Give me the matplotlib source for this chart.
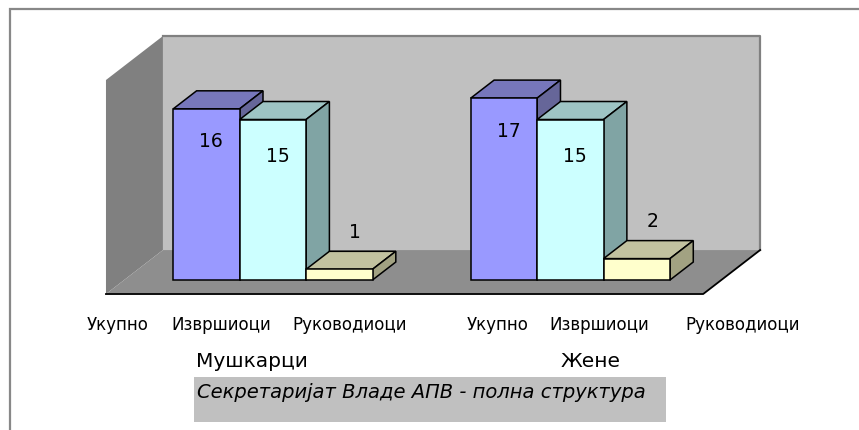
import matplotlib
matplotlib.use("Agg")
import matplotlib.pyplot as plt
from matplotlib.patches import Polygon, Rectangle

# podaci
grupe = ["Мушкарци", "Жене"]
kategorije = ["Укупно", "Извршиоци", "Руководиоци"]
muskarci = [16, 15, 1]
zene = [17, 15, 2]
vrijednosti = [muskarci, zene]
naslov = "Секретаријат Владе АПВ - полна структура"

# boje (prednja strana, vrh, bok)
boje_prednje = ["#9999FF", "#CCFFFF", "#FFFFCC"]
boje_vrh = ["#7777BB", "#9EC4C4", "#C2C2A0"]
boje_bok = ["#666699", "#80A4A4", "#A2A282"]

# raspored (u jedinicama sirine stupca / vrijednosti)
razmak_grupa = 4.48
kx, ky = 0.858, 4.11       # pomak za punu dubinu zida
v0 = -1.31                 # prednji rub poda
d0, d1 = 0.318, 0.727      # dubina stupaca
pod_lijevo, pod_desno = -1.014, 7.98
vrh_zida = 20.0

def proj(x, v, d):
    return (x + d * kx, v + v0 + d * ky)

fig = plt.figure(figsize=(8.59, 4.31), dpi=100)
ax = fig.add_axes([0, 0, 1, 1])
ax.set_xlim(-173.3 / 66.4, (859 - 173.3) / 66.4)
ax.set_ylim((281 - 431) / 10.7, 281 / 10.7)
ax.axis("off")

# zidovi i pod
zadnji = [proj(pod_lijevo, 0, 1), proj(pod_desno, 0, 1),
          proj(pod_desno, vrh_zida, 1), proj(pod_lijevo, vrh_zida, 1)]
ax.add_patch(Polygon(zadnji, closed=True, facecolor="#C0C0C0", edgecolor="none", zorder=1))
ax.plot([zadnji[3][0], zadnji[2][0], zadnji[1][0]],
        [zadnji[3][1], zadnji[2][1], zadnji[1][1]], color="#808080", lw=1.6, zorder=1.1)
lijevi = [proj(pod_lijevo, 0, 0), proj(pod_lijevo, vrh_zida, 0),
          proj(pod_lijevo, vrh_zida, 1), proj(pod_lijevo, 0, 1)]
ax.add_patch(Polygon(lijevi, closed=True, facecolor="#808080", edgecolor="none", zorder=1.2))
pod = [proj(pod_lijevo, 0, 0), proj(pod_desno, 0, 0),
       proj(pod_desno, 0, 1), proj(pod_lijevo, 0, 1)]
ax.add_patch(Polygon(pod, closed=True, facecolor="#8E8E8E", edgecolor="none", zorder=1.3))
ax.plot([pod[0][0], pod[1][0], pod[2][0]], [pod[0][1], pod[1][1], pod[2][1]],
        color="black", lw=1.3, zorder=1.4)

# stupci
ddx = (d1 - d0) * kx
ddy = (d1 - d0) * ky
pomak_x = [0.07, 0.075, 0.24]
pomak_y = [-3.0, -3.35, 3.55]
z = 2
for g, vals in enumerate(vrijednosti):
    for i, v in enumerate(vals):
        x = g * razmak_grupa + i
        vrh = [(x, v), (x + 1, v), (x + 1 + ddx, v + ddy), (x + ddx, v + ddy)]
        bok = [(x + 1, 0), (x + 1, v), (x + 1 + ddx, v + ddy), (x + 1 + ddx, ddy)]
        ax.add_patch(Polygon(vrh, closed=True, facecolor=boje_vrh[i],
                             edgecolor="black", lw=1.1, zorder=z))
        ax.add_patch(Polygon(bok, closed=True, facecolor=boje_bok[i],
                             edgecolor="black", lw=1.1, zorder=z))
        ax.bar(x, v, width=1, align="edge", color=boje_prednje[i],
               edgecolor="black", lw=1.1, zorder=z + 0.5)
        ax.text(x + 0.5 + pomak_x[i], v + pomak_y[i], str(v), ha="center", va="center",
                fontsize=13.5, zorder=20)
        z += 1

# natpisi kategorija
x_kat = [-0.833, 0.718, 2.661, 4.89, 6.41, 8.57]
k = 0
for g in range(len(grupe)):
    for naziv in kategorije:
        ax.text(x_kat[k], -4.11, naziv, ha="center", va="center", fontsize=12)
        k += 1
x_grupa = [1.185, 6.29]
for g, naziv in enumerate(grupe):
    ax.text(x_grupa[g], -7.57, naziv, ha="center", va="center", fontsize=14.5)

# naslov u sivom okviru
fig.patches.append(Rectangle((194 / 859, 1 - 423 / 431), 472 / 859, 45 / 431,
                             transform=fig.transFigure, facecolor="#C0C0C0",
                             edgecolor="none", zorder=0))
fig.text(197 / 859, 1 - 393 / 431, naslov, ha="left", va="center",
         fontsize=14, style="italic")

# vanjski okvir
fig.patches.append(Rectangle((10 / 859, -0.1), 1.2, 1 - 10 / 431 + 0.1,
                             transform=fig.transFigure, facecolor="none",
                             edgecolor="#888888", lw=1.6))

fig.savefig("out.png", dpi=100)
